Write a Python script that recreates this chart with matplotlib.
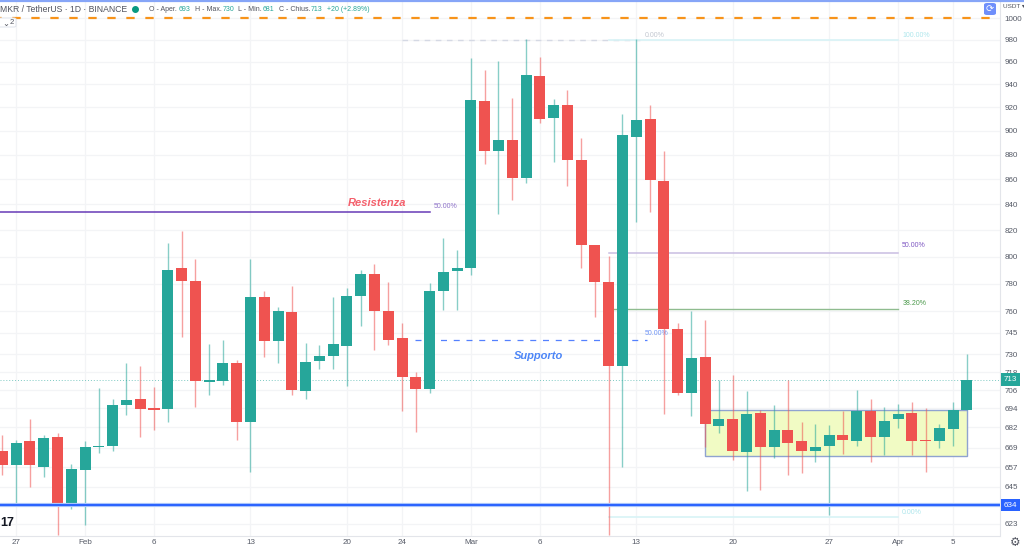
import numpy as np
import matplotlib
matplotlib.use("Agg")
import matplotlib.pyplot as plt
from matplotlib.patches import Rectangle, FancyBboxPatch
from matplotlib.ticker import NullLocator

plt.rcParams["font.family"] = ["Liberation Sans", "DejaVu Sans"]

GREEN, RED = "#26a69a", "#ef5350"
LABEL = "#50535e"

# giorni dal 27 gen (-1 = 26 gen)
days = list(range(-1, 70))
opens = [667.2, 658.3, 673.3, 657.3, 676.0, 634.2, 655.3, 669.1, 670.0, 696.1, 700.0, 694.2,
         693.9, 791.3, 781.9, 711.7, 712.2, 724.0, 685.2, 770.1, 739.2, 759.4, 705.4, 725.8,
         729.0, 736.0, 771.3, 787.0, 760.1, 741.1, 715.0, 707.0, 774.7, 789.1, 791.3, 925.3,
         882.8, 892.2, 861.0, 947.2, 911.0, 922.1, 875.9, 808.9, 781.2, 722.0, 894.9, 910.1,
         858.3, 747.4, 704.0, 728.3, 682.8, 687.1, 666.0, 691.2, 669.1, 680.2, 673.3, 666.9,
         670.0, 677.2, 673.3, 692.5, 676.0, 687.1, 691.2, 674.1, 673.3, 681.0, 693.0]
highs = [677.0, 673.9, 687.3, 677.0, 678.5, 658.9, 673.3, 707.5, 700.2, 724.0, 722.2, 708.0,
         810.0, 819.3, 797.9, 737.2, 739.9, 726.3, 797.9, 774.9, 762.9, 778.3, 738.1, 736.3,
         770.1, 776.8, 790.0, 794.5, 781.0, 752.1, 718.3, 780.2, 813.8, 804.9, 963.0, 952.5,
         960.5, 928.2, 980.3, 963.9, 927.0, 934.9, 894.1, 808.9, 800.4, 914.1, 980.3, 921.8,
         883.0, 752.1, 760.3, 754.2, 712.4, 716.1, 705.3, 693.1, 696.1, 712.4, 685.4, 684.1,
         683.2, 692.5, 706.0, 700.2, 695.2, 697.0, 698.3, 694.2, 684.1, 698.3, 730.0]
lows = [652.2, 633.6, 645.1, 650.6, 616.5, 631.8, 622.2, 665.8, 666.6, 689.7, 675.4, 680.4,
        685.5, 742.2, 695.2, 702.7, 709.5, 673.5, 654.2, 728.5, 724.4, 702.7, 700.4, 720.1,
        720.3, 708.4, 749.8, 733.3, 736.5, 692.6, 679.1, 704.4, 761.2, 761.2, 786.3, 872.4,
        832.5, 843.5, 857.2, 906.2, 874.3, 854.6, 791.3, 756.3, 616.5, 657.3, 826.5, 834.3,
        690.3, 702.9, 689.2, 669.6, 678.5, 661.4, 642.5, 643.1, 662.4, 652.2, 653.3, 660.3,
        628.3, 665.1, 670.2, 660.3, 664.5, 681.5, 664.5, 654.2, 668.5, 670.2, 693.0]
closes = [658.3, 672.2, 658.3, 675.0, 634.2, 656.0, 669.1, 670.0, 696.1, 699.4, 693.9, 692.9,
          790.0, 781.9, 712.2, 712.2, 724.0, 685.2, 770.1, 739.2, 760.0, 706.0, 725.1, 729.2,
          737.2, 771.3, 787.0, 760.1, 739.9, 715.0, 707.0, 774.9, 788.3, 791.3, 925.9, 882.8,
          892.2, 861.0, 948.1, 910.1, 922.1, 875.9, 808.9, 781.0, 722.0, 896.3, 909.3, 859.1,
          747.2, 704.0, 727.2, 684.1, 687.1, 666.9, 690.1, 669.1, 680.2, 672.0, 666.9, 669.3,
          677.2, 673.9, 692.5, 676.0, 686.0, 690.1, 673.3, 673.1, 681.3, 693.1, 713.0]

price_ticks = [1000, 980, 960, 940, 920, 900, 880, 860, 840, 820, 800, 780, 760, 745, 730,
               718, 706, 694, 682, 669, 657, 645, 623]
grid_prices = price_ticks + [634]
date_ticks = [0, 5, 10, 17, 24, 28, 33, 38, 45, 52, 59, 64, 68]
date_labels = ["27", "Feb", "6", "13", "20", "24", "Mar", "6", "13", "20", "27", "Apr", "5"]

fig = plt.figure(figsize=(10.24, 5.49), dpi=100)
ax = fig.add_axes([0, 1 - 535.7 / 549, 999.5 / 1024, 535.7 / 549])
ax.set_yscale("log")
ax.set_xlim(-1.176, 71.36)
ax.set_ylim(616.1, 1017)

ax.yaxis.tick_right()
ax.set_yticks(price_ticks)
ax.set_yticklabels([str(p) for p in price_ticks])
ax.yaxis.set_minor_locator(NullLocator())
ax.set_xticks(date_ticks)
ax.set_xticklabels(date_labels)
ax.tick_params(axis="y", length=0, labelsize=5.8, labelcolor="#555a66", pad=3.5)
ax.tick_params(axis="x", length=0, labelsize=5.8, labelcolor="#555a66", pad=2.5)
for s in ["top", "left"]:
    ax.spines[s].set_visible(False)
for s in ["right", "bottom"]:
    ax.spines[s].set_color("#e3e5ea")
    ax.spines[s].set_linewidth(0.8)

for p in grid_prices:
    ax.axhline(p, color="#f3f4f6", lw=0.9, zorder=0)
for d in date_ticks:
    ax.axvline(d, color="#f3f4f6", lw=0.9, zorder=0)

# box di consolidamento
ax.add_patch(Rectangle((50, 664), 19, 693 - 664, facecolor="#f1fbc4", edgecolor="#8fa3d0",
                       lw=1.0, zorder=1))

# fibonacci / livelli (sotto le candele)
ax.plot([28, 45.25], [980, 980], color="#d5d9e4", lw=1, ls=(0, (4, 4)), zorder=1)
ax.plot([43, 64], [980, 980], color="#d8f3f6", lw=1.2, zorder=1)
ax.plot([43, 64], [803, 803], color="#c9bde2", lw=1.1, zorder=1)
ax.plot([43, 64], [761.4, 761.4], color="#8fbc8f", lw=1.0, zorder=1)
ax.plot([43, 64], [626.8, 626.8], color="#d8f3f6", lw=1.2, zorder=1)
ax.plot([-1.176, 30.03], [834.3, 834.3], color="#673ab7", lw=1.1, zorder=1)
ax.plot([28.95, 45.75], [740, 740], color="#2962ff", lw=0.9, ls=(0, (4.8, 5.4)), alpha=0.8, zorder=3)
FIB = dict(fontsize=5.0, va="center", zorder=1)
ax.text(30.3, 838.5, "50.00%", color="#8e72c9", **FIB)
ax.text(45.6, 983.5, "0.00%", color="#c2c7d0", **FIB)
ax.text(64.3, 983.5, "100.00%", color="#aee6ec", **FIB)
ax.text(64.3, 808.5, "50.00%", color="#7e57c2", **FIB)
ax.text(64.3, 765.5, "38.20%", color="#4c9a4c", **FIB)
ax.text(45.6, 744.5, "50.00%", color="#6f94f5", **FIB)
ax.text(64.3, 629.5, "0.00%", color="#aee6ec", **FIB)

# ultimo prezzo
ax.axhline(713, color=GREEN, lw=0.7, ls=(0, (1, 2)), alpha=0.6, zorder=1)

# candele
for d, o, h, l, c in zip(days, opens, highs, lows, closes):
    col = GREEN if c >= o else RED
    ax.vlines(d, l, h, color=col, lw=1.0, alpha=0.55, zorder=4)
    body = max(abs(c - o), 0.9)
    ax.bar(d, body, bottom=min(o, c), width=0.8, color=col, edgecolor="none", zorder=5)

# linee orizzontali sopra le candele
ax.axhline(1000, color="#f7931a", lw=1.6, ls=(3, (3.75, 4.8)), zorder=6)
ax.axhline(634, color="#a9c4fb", lw=3.0, zorder=6)
ax.axhline(634, color="#2962ff", lw=1.4, zorder=6)

NOTE = dict(fontsize=8, fontstyle="italic", fontweight="bold", va="center", zorder=7)
ax.text(24.1, 841, "Resistenza", color="#f4606c", **NOTE)
ax.text(36.1, 729, "Supporto", color="#4d86f7", **NOTE)

# etichette prezzo sull'asse
trans = ax.get_yaxis_transform()
ax.text(1.0045, 713, "713", transform=trans, fontsize=5.8, color="white", va="center", ha="left",
        bbox=dict(boxstyle="square,pad=0.35", fc=GREEN, ec="none"), clip_on=False, zorder=8)
ax.text(1.0045, 634, "634", transform=trans, fontsize=5.8, color="white", va="center", ha="left",
        bbox=dict(boxstyle="square,pad=0.35", fc="#2962ff", ec="none"), clip_on=False, zorder=8)

# intestazione
fig.add_artist(plt.Line2D([0, 1], [0.999, 0.999], color="#86a5f7", lw=1.6))
fig.text(0, 1 - 9 / 549, "MKR / TetherUS · 1D · BINANCE", fontsize=6.2, color=LABEL, va="center")
fig.add_artist(plt.Line2D([135 / 1024], [1 - 8.5 / 549], marker="o", ms=4, color="#089981", ls=""))
header_y = 1 - 9.5 / 549
header = [(149, "O - Aper.", LABEL), (179, "693", GREEN), (195, "H - Max.", LABEL), (223, "730", GREEN),
          (238, "L - Min.", LABEL), (263, "681", GREEN), (279, "C - Chius.", LABEL), (311, "713", GREEN),
          (327, "+20 (+2.89%)", GREEN)]
for px, label, col in header:
    fig.text(px / 1024, header_y, label, fontsize=5, color=col, va="center")

# legenda compressa, logo, pulsanti
fig.add_artist(FancyBboxPatch((-6 / 1024, 1 - 27 / 549), 22 / 1024, 9 / 549,
                              boxstyle="round,pad=0,rounding_size=0.002", transform=fig.transFigure,
                              fc="white", ec="#e0e3eb", lw=0.7))
fig.text(2 / 1024, 1 - 23 / 549, "⌄", fontsize=6, color=LABEL, va="center", family=["DejaVu Sans"])
fig.text(10 / 1024, 1 - 23 / 549, "2", fontsize=5.5, color=LABEL, va="center")
fig.text(0 / 1024, 1 - 523 / 549, "17", fontsize=9, fontweight="bold", color="#131722", va="center")
fig.add_artist(FancyBboxPatch((984 / 1024, 1 - 15 / 549), 12 / 1024, 12 / 549,
                              boxstyle="round,pad=0,rounding_size=0.003", transform=fig.transFigure,
                              fc="#6f8ffb", ec="none"))
fig.text(990 / 1024, 1 - 9 / 549, "⟳", fontsize=7, color="white", va="center", ha="center",
         family=["DejaVu Sans"])
fig.text(1003 / 1024, 1 - 6.5 / 549, "USDT ▾", fontsize=4.6, color=LABEL, va="center")
fig.text(1015 / 1024, 1 - 543 / 549, "⚙", fontsize=8.5, color=LABEL, va="center", ha="center",
         family=["DejaVu Sans"])

fig.savefig("out.png", dpi=100)
